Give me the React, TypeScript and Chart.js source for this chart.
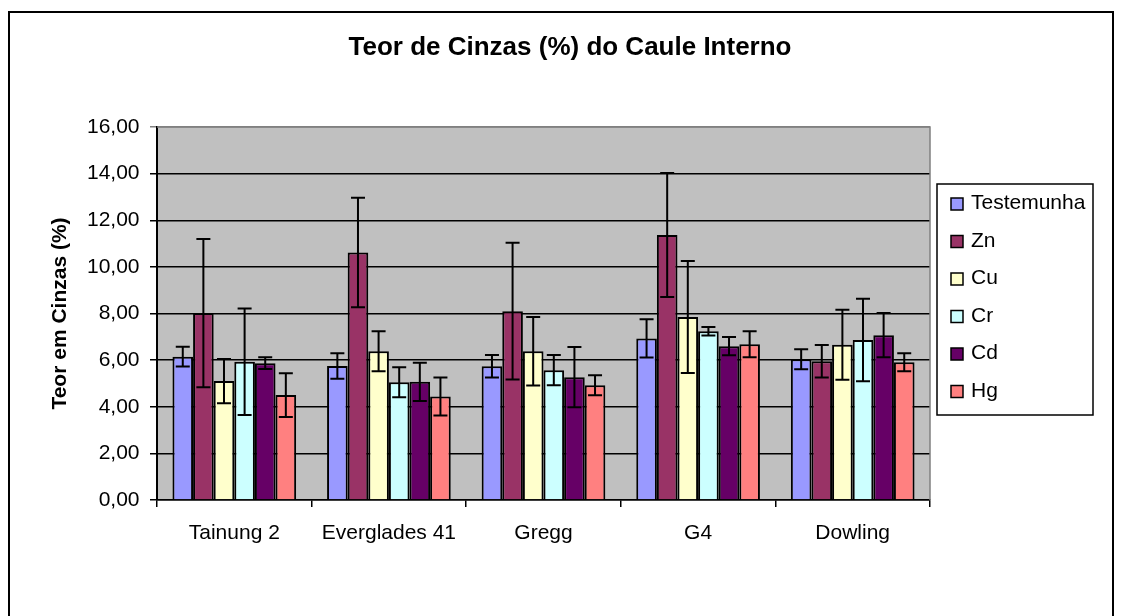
import React, { useEffect, useRef } from 'react';
import { Chart, registerables } from 'chart.js';

Chart.register(...registerables);

const FONT = "'Liberation Sans', Arial, Helvetica, sans-serif";

const chartTitle = 'Teor de Cinzas (%) do Caule Interno';
const yAxisTitle = 'Teor em Cinzas (%)';
const categories = ['Tainung 2', 'Everglades 41', 'Gregg', 'G4', 'Dowling'];
const seriesNames = ['Testemunha', 'Zn', 'Cu', 'Cr', 'Cd', 'Hg'];
const seriesColors = ['#9999FF', '#993366', '#FFFFCC', '#CCFFFF', '#660066', '#FF8080'];

const testemunha = [6.15, 5.75, 5.74, 6.93, 6.04];
const testemunhaErr = [0.42, 0.55, 0.48, 0.82, 0.43];
const zn = [8.02, 10.62, 8.1, 11.37, 5.95];
const znErr = [3.18, 2.35, 2.93, 2.66, 0.7];
const cu = [5.1, 6.38, 6.38, 7.85, 6.66];
const cuErr = [0.95, 0.86, 1.47, 2.4, 1.5];
const cr = [5.93, 5.05, 5.57, 7.24, 6.86];
const crErr = [2.28, 0.64, 0.65, 0.18, 1.77];
const cd = [5.87, 5.07, 5.27, 6.6, 7.07];
const cdErr = [0.25, 0.82, 1.29, 0.39, 0.95];
const hg = [4.5, 4.44, 4.92, 6.68, 5.91];
const hgErr = [0.94, 0.82, 0.43, 0.56, 0.39];

const seriesValues = [testemunha, zn, cu, cr, cd, hg];
const seriesErrors = [testemunhaErr, znErr, cuErr, crErr, cdErr, hgErr];

const yMin = 0;
const yMax = 16;
const yStep = 2;

const formatTick = (v: number) => v.toFixed(2).replace('.', ',');

const backgroundPlugin = {
  id: 'plotBackground',
  beforeDraw(chart: any) {
    const { ctx, chartArea } = chart;
    ctx.save();
    ctx.fillStyle = '#FFFFFF';
    ctx.fillRect(0, 0, chart.width, chart.height);
    ctx.fillStyle = '#C0C0C0';
    ctx.fillRect(chartArea.left, chartArea.top, chartArea.right - chartArea.left, chartArea.bottom - chartArea.top);
    ctx.restore();
  },
};

const errorBarPlugin = {
  id: 'errorBars',
  afterDatasetsDraw(chart: any) {
    const { ctx } = chart;
    const yScale = chart.scales.y;
    ctx.save();
    ctx.strokeStyle = '#000000';
    ctx.lineWidth = 2;
    chart.data.datasets.forEach((ds: any, i: number) => {
      const meta = chart.getDatasetMeta(i);
      if (meta.hidden) return;
      meta.data.forEach((el: any, j: number) => {
        const v = ds.data[j];
        const e = ds.errorBars[j];
        const x = el.x;
        const yT = yScale.getPixelForValue(v + e);
        const yB = yScale.getPixelForValue(v - e);
        const cap = 7;
        ctx.beginPath();
        ctx.moveTo(x, yT);
        ctx.lineTo(x, yB);
        ctx.moveTo(x - cap, yT);
        ctx.lineTo(x + cap, yT);
        ctx.moveTo(x - cap, yB);
        ctx.lineTo(x + cap, yB);
        ctx.stroke();
      });
    });
    ctx.restore();
  },
};

const decorPlugin = {
  id: 'decor',
  afterDraw(chart: any) {
    const { ctx, chartArea } = chart;
    ctx.save();
    // plot area gray border (top and right)
    ctx.strokeStyle = '#808080';
    ctx.lineWidth = 1.5;
    ctx.beginPath();
    ctx.moveTo(chartArea.left, chartArea.top);
    ctx.lineTo(chartArea.right, chartArea.top);
    ctx.lineTo(chartArea.right, chartArea.bottom);
    ctx.stroke();

    // outer chart border
    ctx.strokeStyle = '#000000';
    ctx.lineWidth = 2;
    ctx.strokeRect(9, 12, 1104, 610);

    // title
    ctx.fillStyle = '#000000';
    ctx.font = `bold 26px ${FONT}`;
    ctx.textAlign = 'center';
    ctx.textBaseline = 'middle';
    ctx.fillText(chartTitle, 570, 48);

    // legend
    const lx = 937;
    const ly = 184;
    const lw = 156;
    const lh = 231;
    ctx.fillStyle = '#FFFFFF';
    ctx.fillRect(lx, ly, lw, lh);
    ctx.strokeStyle = '#000000';
    ctx.lineWidth = 1.5;
    ctx.strokeRect(lx, ly, lw, lh);
    ctx.font = `21px ${FONT}`;
    ctx.textAlign = 'left';
    ctx.textBaseline = 'middle';
    chart.data.datasets.forEach((ds: any, i: number) => {
      const cy = 203.5 + i * 37.5;
      ctx.fillStyle = ds.backgroundColor;
      ctx.fillRect(951, cy - 5.5, 12, 12);
      ctx.lineWidth = 1.5;
      ctx.strokeStyle = '#000000';
      ctx.strokeRect(951, cy - 5.5, 12, 12);
      ctx.fillStyle = '#000000';
      ctx.fillText(ds.label, 971, cy);
    });
    ctx.restore();
  },
};

export default function App() {
  const canvasRef = useRef<HTMLCanvasElement | null>(null);

  useEffect(() => {
    if (!canvasRef.current) return;
    const datasets = seriesNames.map((name, i) => ({
      label: name,
      data: seriesValues[i],
      errorBars: seriesErrors[i],
      backgroundColor: seriesColors[i],
      borderColor: '#000000',
      borderWidth: 2,
      categoryPercentage: 0.8,
      barPercentage: 1.0,
    }));

    const chart = new Chart(canvasRef.current, {
      type: 'bar',
      data: { labels: categories, datasets: datasets as any },
      options: {
        animation: false,
        responsive: false,
        devicePixelRatio: 1,
        layout: { padding: { left: 0, top: 127, right: 191, bottom: 0 } },
        font: { family: FONT },
        plugins: {
          legend: { display: false },
          title: { display: false },
          tooltip: { enabled: false },
        },
        scales: {
          x: {
            type: 'category',
            offset: true,
            afterFit: (scale: any) => {
              scale.height = 116;
            },
            grid: {
              offset: true,
              drawOnChartArea: false,
              drawTicks: true,
              tickLength: 7,
              color: '#000000',
              lineWidth: 1.5,
            },
            border: { display: true, color: '#000000', width: 1.5 },
            ticks: {
              color: '#000000',
              font: { family: FONT, size: 21 },
              padding: 14,
              autoSkip: false,
              maxRotation: 0,
              minRotation: 0,
            },
          },
          y: {
            type: 'linear',
            min: yMin,
            max: yMax,
            afterFit: (scale: any) => {
              scale.width = 157;
            },
            grid: {
              drawOnChartArea: true,
              drawTicks: true,
              tickLength: 7,
              color: (c: any) => (c.tick && c.tick.value === yMax ? '#808080' : '#000000'),
              lineWidth: 1.5,
            },
            border: { display: true, color: '#000000', width: 2 },
            ticks: {
              stepSize: yStep,
              color: '#000000',
              font: { family: FONT, size: 21 },
              padding: 10.5,
              callback: (v: any) => formatTick(Number(v)),
            },
            title: {
              display: true,
              text: yAxisTitle,
              color: '#000000',
              font: { family: FONT, size: 21, weight: 'bold' },
              padding: { top: 48, bottom: 0 },
            },
          },
        },
      },
      plugins: [backgroundPlugin, errorBarPlugin, decorPlugin],
    });

    return () => {
      chart.destroy();
    };
  }, []);

  return (
    <div style={{ position: 'absolute', left: 0, top: 0, width: 1121, height: 616 }}>
      <canvas ref={canvasRef} width={1121} height={616} style={{ display: 'block', width: 1121, height: 616 }} />
    </div>
  );
}
